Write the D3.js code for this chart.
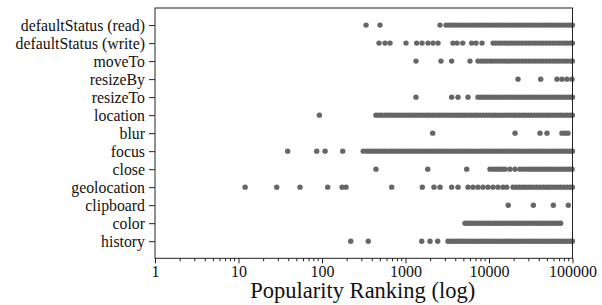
<!DOCTYPE html>
<html>
<head>
<meta charset="utf-8">
<script src="https://cdn.jsdelivr.net/npm/d3@7"></script>
<style>
  body { margin: 0; background: #fff; }
</style>
</head>
<body>
<div id="chart"></div>
<script>
// categories, top to bottom
const categories = [
  "defaultStatus (read)", "defaultStatus (write)", "moveTo", "resizeBy", "resizeTo",
  "location", "blur", "focus", "close", "geolocation", "clipboard", "color", "history"
];

// popularity ranks of the sites using each feature
const readRanks = [337, 495, 2590, 3060, 3320, 3600, 3910, 4250, 4610, 5010, 5440, 5900, 6410, 6960, 7550, 8200, 8900, 9660, 10500, 11400, 12400, 13400, 14600, 15800, 17200, 18700, 20300, 22000, 23900, 25900, 28100, 30600, 33200, 36000, 39100, 42500, 46100, 50000, 54300, 59000, 64000, 69500, 75400, 81900, 88900, 96500, 99800];
const writeRanks = [482, 568, 652, 1014, 1361, 1577, 1860, 2135, 2450, 3700, 4140, 4845, 6210, 6990, 8250, 11200, 12100, 13200, 14300, 15500, 16800, 18300, 19800, 21500, 23400, 25400, 27600, 29900, 32500, 35300, 38300, 41600, 45100, 49000, 53200, 57700, 62700, 68000, 73900, 80200, 87100, 94500, 99700];
const moveToRanks = [1335, 2660, 3570, 5920, 7380, 8010, 8700, 9450, 10300, 11100, 12100, 13100, 14300, 15500, 16800, 18300, 19800, 21500, 23400, 25400, 27600, 29900, 32500, 35300, 38300, 41600, 45100, 49000, 53200, 57700, 62700, 68000, 73900, 80200, 87100, 94500, 99700];
const resizeByRanks = [22250, 41600, 65200, 74800, 85900, 98600];
const resizeToRanks = [1335, 3570, 4255, 5610, 7380, 8000, 8690, 9440, 10250, 11130, 12090, 13130, 14260, 15490, 16820, 18270, 19840, 21550, 23400, 25420, 27600, 29980, 32560, 35360, 38400, 41700, 45290, 49190, 53420, 58010, 63000, 68420, 74310, 80700, 87640, 95180, 99900];
const locationRanks = [93, 443, 480, 520, 565, 615, 665, 725, 785, 855, 925, 1005, 1090, 1185, 1285, 1395, 1515, 1645, 1790, 1940, 2110, 2290, 2490, 2700, 2930, 3180, 3460, 3750, 4080, 4430, 4810, 5220, 5670, 6160, 6690, 7260, 7890, 8570, 9300, 10100, 11000, 11900, 12900, 14000, 15300, 16600, 18000, 19600, 21200, 23100, 25100, 27200, 29600, 32100, 34900, 37900, 41100, 44700, 48500, 52700, 57200, 62100, 67500, 73300, 79600, 86400, 93800, 99600];
const blurRanks = [2117, 20500, 40800, 49500, 74800, 81300, 88300];
const focusRanks = [38.8, 86.4, 109, 177, 312, 346, 376, 408, 443, 481, 522, 567, 616, 669, 726, 789, 856, 930, 1010, 1097, 1191, 1293, 1404, 1525, 1656, 1798, 1953, 2120, 2303, 2500, 2715, 2948, 3201, 3477, 3775, 4100, 4452, 4835, 5250, 5701, 6191, 6723, 7301, 7929, 8610, 9350, 10150, 11030, 11970, 13000, 14120, 15330, 16650, 18080, 19630, 21320, 23150, 25140, 27300, 29650, 32200, 34960, 37970, 41230, 44770, 48620, 52800, 57340, 62270, 67620, 73430, 79740, 86600, 94040, 99700];
const closeRanks = [443, 1845, 5410, 10280, 11200, 12200, 13200, 14400, 15550, 17800, 20500, 23500, 25800, 28500, 31000, 33700, 36600, 39800, 43200, 46900, 51000, 55400, 60200, 65400, 71000, 77100, 83800, 91000, 98800];
const geolocationRanks = [12, 28.7, 54.5, 117, 174, 194, 684, 1590, 2195, 2590, 3570, 4255, 5610, 6430, 7380, 8470, 9720, 11160, 12800, 14700, 16300, 19400, 21100, 22900, 24900, 27000, 29400, 31900, 34600, 37600, 40900, 44400, 48200, 52300, 56800, 61700, 67000, 72800, 79100, 85900, 93300, 99600];
const clipboardRanks = [17000, 33950, 58900, 89100];
const colorRanks = [5160, 5600, 6080, 6600, 7170, 7790, 8460, 9190, 9980, 10840, 11770, 12780, 13880, 15070, 16370, 17780, 19310, 20970, 22770, 24730, 26860, 29170, 31680, 34400, 37360, 40570, 44060, 47850, 51970, 56440, 61290, 66560, 72200];
const historyRanks = [221, 358, 1564, 1965, 2430, 3230, 3510, 3810, 4140, 4500, 4880, 5300, 5760, 6250, 6790, 7380, 8010, 8700, 9450, 10260, 11140, 12100, 13140, 14270, 15500, 16830, 18280, 19850, 21560, 23410, 25420, 27610, 29980, 32560, 35360, 38400, 41710, 45290, 49190, 53420, 58010, 63000, 68420, 74310, 80700, 87640, 95180, 99800];

const xTicks = [1, 10, 100, 1000, 10000, 100000];

const ranksByCategory = [
  readRanks, writeRanks, moveToRanks, resizeByRanks, resizeToRanks, locationRanks,
  blurRanks, focusRanks, closeRanks, geolocationRanks, clipboardRanks, colorRanks, historyRanks
];

const serif = "'Liberation Serif', 'Times New Roman', Times, 'DejaVu Serif', serif";

// setting canvas
const width = 602;
const height = 305;
const margin = {top: 8, right: 29.5, bottom: 46.7, left: 155};
const innerW = width - margin.left - margin.right;
const innerH = height - margin.top - margin.bottom;

const svg = d3.select("#chart").append("svg")
  .attr("width", width)
  .attr("height", height);

const g = svg.append("g")
  .attr("transform", "translate(" + margin.left + "," + margin.top + ")");

const x = d3.scaleLog().domain([1, 100000]).range([0, innerW]);
const y = d3.scalePoint().domain(categories).range([0, innerH]).padding(0.95);

// points
const points = [];
categories.forEach((c, i) => {
  ranksByCategory[i].forEach(r => points.push({cat: c, rank: r}));
});

g.selectAll(".dot")
  .data(points)
  .enter().append("circle")
  .attr("class", "dot")
  .attr("cx", d => x(d.rank))
  .attr("cy", d => y(d.cat))
  .attr("r", 2.7)
  .attr("fill", "#666");

// frame
g.append("rect")
  .attr("width", innerW)
  .attr("height", innerH)
  .attr("fill", "none")
  .attr("stroke", "#222")
  .attr("stroke-width", 1);

// y axis
const yAxis = g.append("g")
  .call(d3.axisLeft(y).tickSize(6).tickPadding(4))
  .attr("font-family", serif);
yAxis.select(".domain").remove();
yAxis.selectAll("line").attr("stroke", "#222");
yAxis.selectAll("text")
  .style("font-family", serif)
  .style("font-size", "15.8px")
  .attr("fill", "#111")
  .attr("dy", "0.33em");

// x axis major
const xAxis = g.append("g")
  .attr("transform", "translate(0," + innerH + ")")
  .call(d3.axisBottom(x).tickValues(xTicks).tickFormat(d3.format("d")).tickSize(5).tickPadding(2))
  .attr("font-family", serif);
xAxis.select(".domain").remove();
xAxis.selectAll("line").attr("stroke", "#222");
xAxis.selectAll("text")
  .style("font-family", serif)
  .style("font-size", "16px")
  .attr("fill", "#111");

// x axis minor ticks
const minor = [];
for (let dec = 1; dec < 100000; dec *= 10) {
  for (let k = 2; k < 10; k++) minor.push(dec * k);
}
g.append("g")
  .attr("transform", "translate(0," + innerH + ")")
  .selectAll("line")
  .data(minor)
  .enter().append("line")
  .attr("x1", d => x(d))
  .attr("x2", d => x(d))
  .attr("y1", 0)
  .attr("y2", 3)
  .attr("stroke", "#222");

// x label
svg.append("text")
  .attr("x", margin.left + innerW / 2 - 1)
  .attr("y", 298)
  .attr("text-anchor", "middle")
  .style("font-family", serif)
  .style("font-size", "22.5px")
  .attr("fill", "#111")
  .text("Popularity Ranking (log)");
</script>
</body>
</html>
